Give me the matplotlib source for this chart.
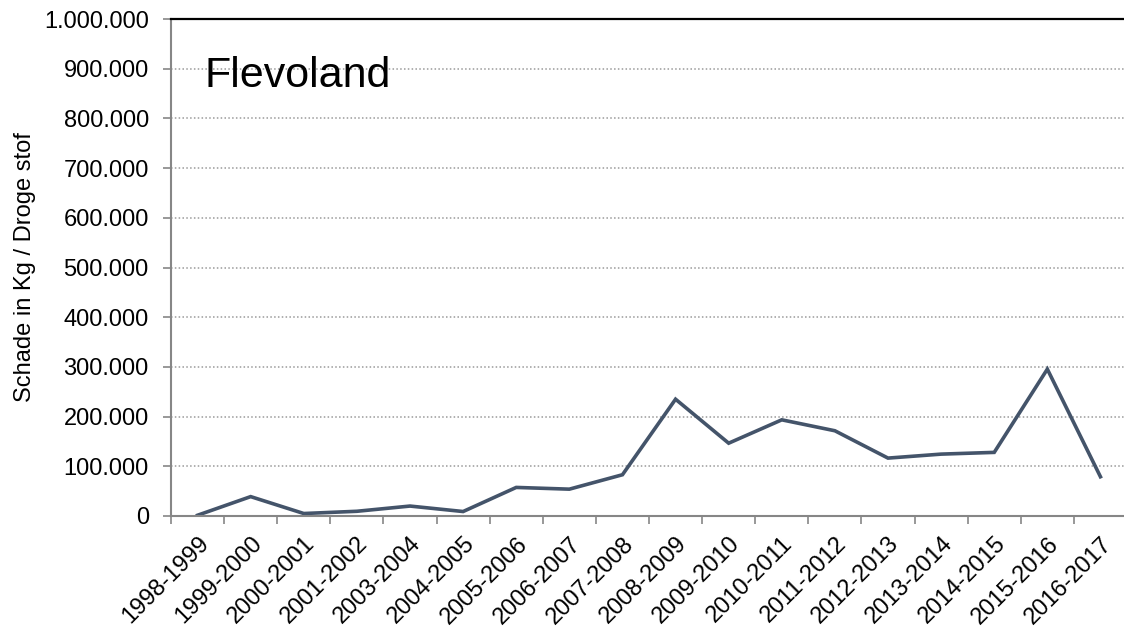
import matplotlib
matplotlib.use("Agg")
import matplotlib.pyplot as plt
from matplotlib.ticker import FuncFormatter, MultipleLocator, FixedLocator

plt.rcParams['font.family'] = ['Liberation Sans', 'DejaVu Sans']

seizoenen = ['1998-1999', '1999-2000', '2000-2001', '2001-2002', '2003-2004',
             '2004-2005', '2005-2006', '2006-2007', '2007-2008', '2008-2009',
             '2009-2010', '2010-2011', '2011-2012', '2012-2013', '2013-2014',
             '2014-2015', '2015-2016', '2016-2017']
schade = [1500, 39000, 5000, 9500, 20000, 9000, 57500, 54000, 83000, 235000,
          146500, 193500, 171500, 116500, 124500, 128000, 295500, 79000]

fig = plt.figure(figsize=(11.24, 6.33), dpi=100)
ax = fig.add_axes([171 / 1124, 117 / 633, 956 / 1124, 497 / 633])

x = range(len(seizoenen))
ax.plot(x, schade, color='#44546A', lw=2.6, solid_joinstyle='miter')

ax.set_xlim(-0.5, len(seizoenen) - 0.5)
ax.set_ylim(0, 1000000)
ax.yaxis.set_major_locator(MultipleLocator(100000))
ax.yaxis.set_major_formatter(FuncFormatter(lambda v, p: f"{int(v):,}".replace(",", ".")))

# ticks between the categories, labels under the category centres
ax.xaxis.set_major_locator(FixedLocator([i - 0.5 for i in range(len(seizoenen) + 1)]))
ax.xaxis.set_major_formatter(FuncFormatter(lambda v, p: ''))
ax.xaxis.set_minor_locator(FixedLocator(list(x)))
ax.set_xticklabels(seizoenen, minor=True, rotation=45, ha='right',
                   rotation_mode='anchor', fontsize=17)
ax.tick_params(axis='x', which='minor', length=0, pad=12)
ax.tick_params(axis='x', which='major', length=6, width=1.2, color='#868686')
ax.tick_params(axis='y', length=6, width=1.2, color='#868686', pad=10, labelsize=17)

ax.grid(axis='y', color='#9A9A9A', lw=1.1, linestyle=(0, (1, 1.5)))
ax.set_axisbelow(True)

for s in ['left', 'bottom']:
    ax.spines[s].set_color('#868686')
    ax.spines[s].set_linewidth(1.5)
ax.spines['right'].set_visible(False)
ax.spines['top'].set_color('black')
ax.spines['top'].set_linewidth(1.6)

ax.set_ylabel('Schade in Kg / Droge stof', fontsize=17, labelpad=6)
ax.text(0.035, 0.925, 'Flevoland', transform=ax.transAxes, fontsize=31,
        va='top', ha='left')

fig.savefig('out.png', dpi=100)
